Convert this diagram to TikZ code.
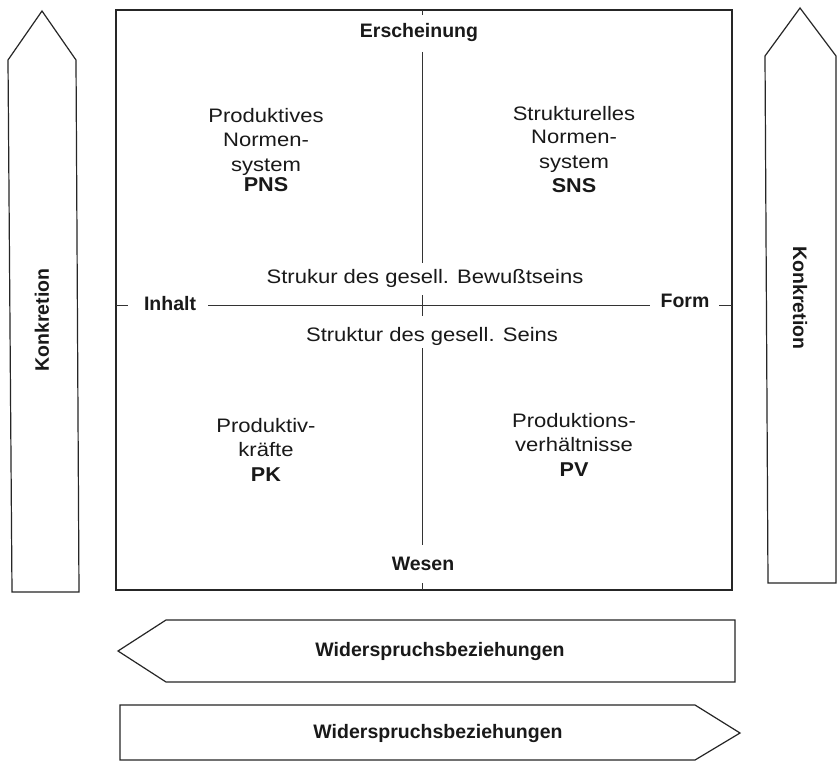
\documentclass[tikz,border=0pt]{standalone}
\usepackage{fontspec}
\setmainfont{Liberation Sans}
\newfontfamily\regfont{Liberation Sans}[FakeStretch=1.13]
\newfontfamily\qbfont{Liberation Sans Bold}[FakeStretch=1.08]
\newcommand{\qbold}[1]{{\qbfont\fontsize{20}{24}\selectfont #1}}
\tikzset{
  reg/.style={font=\regfont\fontsize{19.5}{24.5}\selectfont, align=center, inner sep=0pt, text=black!90},
  bld/.style={font=\bfseries\fontsize{19.5}{24}\selectfont, inner sep=0pt, text=black!90},
  outline/.style={draw=black!85, line width=1.2pt, line join=miter, fill=white},
  rule/.style={draw=black!80, line width=1pt}
}
\begin{document}
\begin{tikzpicture}[x=1pt,y=-1pt]
\useasboundingbox (0,0) rectangle (838,762);
\fill[white] (0,0) rectangle (838,762);

% main square
\coordinate (boxtl) at (116,10);
\coordinate (boxbr) at (732,590);
\draw[outline] (boxtl) rectangle (boxbr);

% left upward arrow
\draw[outline] (8,60) coordinate (la1) -- (42,11) coordinate (latip) -- (76,60) coordinate (la2)
  -- (79,592) coordinate (la3) -- (12,592) coordinate (la4) -- cycle;
\node[bld, rotate=90] (konl) at (42,320) {Konkretion};

% right arrow
\draw[outline] (765,56) coordinate (ra1) -- (800,8) coordinate (ratip) -- (836,56) coordinate (ra2)
  -- (836,583) coordinate (ra3) -- (768,583) coordinate (ra4) -- cycle;
\node[bld, rotate=-90] (konr) at (800,298) {Konkretion};

% bottom arrows
\draw[outline] (118,651) coordinate (ba1) -- (166,620) coordinate (ba2) -- (735,620) coordinate (ba3)
  -- (735,682) coordinate (ba4) -- (166,682) coordinate (ba5) -- cycle;
\node[bld] (wid1) at (440,651) {Widerspruchsbeziehungen};

\draw[outline] (120,705) coordinate (bb1) -- (695,705) coordinate (bb2) -- (740,733) coordinate (bb3)
  -- (695,760) coordinate (bb4) -- (120,760) coordinate (bb5) -- cycle;
\node[bld] (wid2) at (438,733) {Widerspruchsbeziehungen};

% axis labels
\node[bld] (ersch) at (419,33) {Erscheinung};
\node[bld] (wesen) at (423,564) {Wesen};
\node[bld] (inhalt) at (170,304) {Inhalt};
\node[bld] (form) at (685,301) {Form};
\node[reg] (bew) at (425,278) {Strukur des gesell. Bewußtseins};
\node[reg] (sein) at (432,336) {Struktur des gesell. Seins};

% vertical divider
\coordinate (v0) at (422,10);
\coordinate (v1) at (422,15);
\coordinate (v2) at (422,52);
\coordinate (v3) at (422,263);
\coordinate (v4) at (422,295);
\coordinate (v5) at (422,316);
\coordinate (v6) at (422,348);
\coordinate (v7) at (422,545);
\coordinate (v8) at (422,583);
\coordinate (v9) at (422,590);
\draw[rule] (v0) -- (v1);
\draw[rule] (v2) -- (v3);
\draw[rule] (v4) -- (v5);
\draw[rule] (v6) -- (v7);
\draw[rule] (v8) -- (v9);

% horizontal divider
\coordinate (h0) at (116,305);
\coordinate (h1) at (128,305);
\coordinate (h2) at (208,305);
\coordinate (h3) at (650,305);
\coordinate (h4) at (719,305);
\coordinate (h5) at (732,305);
\draw[rule] (h0) -- (h1);
\draw[rule] (h2) -- (h3);
\draw[rule] (h4) -- (h5);

% quadrant texts
\node[reg, anchor=north] (pns) at (266,108) {Produktives\\Normen-\\system\\[-4pt]\qbold{PNS}};
\node[reg, anchor=north] (sns) at (574,106) {Strukturelles\\[-1pt]Normen-\\system\\\qbold{SNS}};
\node[reg, anchor=north] (pk) at (266,418) {Produktiv-\\kräfte\\\qbold{PK}};
\node[reg, anchor=north] (pv) at (574,413) {Produktions-\\verhältnisse\\\qbold{PV}};
\end{tikzpicture}
\end{document}
